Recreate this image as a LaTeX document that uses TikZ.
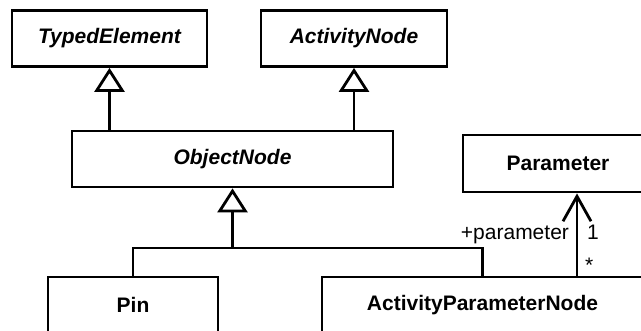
\documentclass[tikz,border=0pt]{standalone}
\usepackage{fontspec}
\setmainfont{Liberation Sans}
\usetikzlibrary{arrows.meta}
\tikzstyle{block} = [draw, rectangle, text centered, minimum height=28pt, inner sep=0pt, font=\fontsize{10.5}{12}\selectfont\bfseries]
\tikzstyle{abstract} = [block, font=\fontsize{10.5}{12}\selectfont\bfseries\itshape]
\tikzstyle{inherit} = [draw, -{Triangle[open, length=12pt, width=15pt]}]
\tikzstyle{assoc} = [draw, -{Straight Barb[length=12.5pt, width=14pt]}]
\tikzstyle{role} = [font=\fontsize{10.5}{12}\selectfont, text height=7.6pt, text depth=2.2pt]

\begin{document}
\begin{tikzpicture}[x=0.5pt, y=-0.5pt, line width=1.4pt]
        \clip (0,0) rectangle (641,331);
        \node[abstract, minimum width=97.5pt] (typed) at (109.5,38.5) {TypedElement};
        \node[abstract, minimum width=93pt, right of=typed, node distance=122.25pt] (activity) {ActivityNode};
        \node[abstract, minimum width=160.5pt] (object) at (232.5,159) {ObjectNode};
        \node[block, minimum width=95pt, minimum height=28.5pt] (param) at (558,163.5) {Parameter};
        \node[block, minimum width=85pt] (pin) at (133,305) {Pin};
        \node[block, minimum width=160.5pt, right of=pin, node distance=174.75pt] (apn) {ActivityParameterNode};
        \coordinate (fork) at (232.5,248);
        \coordinate (link) at (577,0);
        \path[inherit] (typed.south |- object.north) -- (typed.south);
        \path[inherit] (activity.south |- object.north) -- (activity.south);
        \draw (pin.north) |- (fork) -| (apn.north);
        \path[inherit] (fork) -- (object.south);
        \path[assoc] (apn.north -| link) -- node[role, pos=0.1, right] {*}
            node[role, pos=0.5, left] {+parameter}
            node[role, pos=0.5, right, xshift=1pt] {1} (param.south -| link);
    \end{tikzpicture}
\end{document}
